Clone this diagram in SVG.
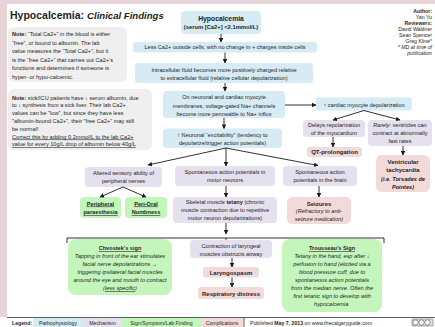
<svg xmlns="http://www.w3.org/2000/svg" width="435" height="327" viewBox="0 0 435 327">
<defs>
<style>
text{font-family:"Liberation Sans",Arial,sans-serif;font-size:5.6px;fill:#1e1e1e}
.c{text-anchor:middle}
.e{text-anchor:end;font-size:5.2px}
.b{font-weight:bold}
.i{font-style:italic}
.u{text-decoration:underline}
.bl{fill:#d6ebf3}
.pu{fill:#e4e0ee}
.gr{fill:#c4f6bc}
.pk{fill:#f2dada}
.nt{fill:#efefef}
.ln{stroke:#1a1a1a;stroke-width:0.9;fill:none}
.ar{marker-end:url(#ah)}
</style>
<marker id="ah" viewBox="0 0 10 10" refX="9" refY="5" markerWidth="4.5" markerHeight="4.5" orient="auto" markerUnits="userSpaceOnUse"><path d="M0,0 L10,5 L0,10 z" fill="#1a1a1a"/></marker>
</defs>
<rect x="0" y="0" width="435" height="327" fill="#ffffff"/>
<rect x="0" y="0" width="435" height="4" fill="#e6d4d8"/>
<rect x="0" y="0" width="7" height="317" fill="#e6d4d8"/>

<g id="title">
<text x="10" y="18.5" style="font-size:10.5px" class="b">Hypocalcemia: <tspan class="i" style="font-size:9.6px">Clinical Findings</tspan></text>
</g>

<g id="authors">
<text x="432" y="12.5" class="e b">Author:</text>
<text x="432" y="18.5" class="e">Yan Yu</text>
<text x="432" y="24.5" class="e b">Reviewers:</text>
<text x="432" y="30.5" class="e">David Waldner</text>
<text x="432" y="36.5" class="e">Sean Spencer</text>
<text x="432" y="42.5" class="e">Greg Kline*</text>
<text x="432" y="48.5" class="e i">* MD at time of</text>
<text x="432" y="54.5" class="e i">publication</text>
</g>

<g id="note1">
<rect x="8" y="27" width="119" height="55" rx="6" class="nt"/>
<text x="12" y="36"><tspan class="b">Note:</tspan> “Total Ca2+” in the blood is either</text>
<text x="12" y="44.6">“free”, or bound to albumin. The lab</text>
<text x="12" y="53.2">value measures the “Total Ca2+”, but it</text>
<text x="12" y="61.8">is the “free Ca2+” that carries out Ca2+’s</text>
<text x="12" y="70.4">functions and determines if someone is</text>
<text x="12" y="79">hyper- or hypo-calcemic.</text>
</g>

<g id="note2">
<rect x="8" y="89" width="144" height="61" rx="6" class="nt"/>
<text x="12" y="99.5"><tspan class="b">Note:</tspan> sick/ICU patients have ↓ serum albumin, due</text>
<text x="12" y="107.3">to ↓ synthesis from a sick liver. Their lab Ca2+</text>
<text x="12" y="115.1">values can be "low", but since they have less</text>
<text x="12" y="122.9">"albumin-bound Ca2+", their "free Ca2+" may still</text>
<text x="12" y="130.7">be <tspan class="i">normal</tspan>!</text>
<text x="12" y="138.5" class="u">Correct this by adding 0.2mmol/L to the lab Ca2+</text>
<text x="12" y="146.3" class="u">value for every 10g/L drop of albumin below 40g/L</text>
</g>

<g id="hypocalcemia">
<rect x="181" y="11" width="80" height="23" rx="4" class="bl"/>
<text x="221" y="20.5" class="c b" style="font-size:6.8px">Hypocalcemia</text>
<text x="221" y="28.8" class="c b" style="font-size:5.8px">(serum [Ca2+] &lt;2.1mmol/L)</text>
</g>

<g id="less-ca">
<rect x="133" y="42" width="184" height="10.5" rx="3" class="bl"/>
<text x="225" y="49.2" class="c">Less Ca2+ outside cells, with no change in + charges inside cells</text>
</g>

<g id="intracellular">
<rect x="135" y="63" width="178" height="20" rx="4" class="bl"/>
<text x="224" y="71.5" class="c">Intracellular fluid becomes more positively charged relative</text>
<text x="224" y="79.5" class="c">to extracellular fluid (relative cellular depolarization)</text>
</g>

<g id="na-channels">
<rect x="163" y="91" width="122" height="27" rx="4" class="bl"/>
<text x="224" y="99" class="c">On neuronal and cardiac myocyte</text>
<text x="224" y="107.5" class="c">membranes, voltage-gated Na+ channels</text>
<text x="224" y="116" class="c">become more permeable to Na+ influx</text>
</g>

<g id="excitability">
<rect x="163" y="128.5" width="119" height="19.5" rx="4" class="bl"/>
<text x="222.5" y="136.5" class="c">↑ Neuronal “excitability” (tendency to</text>
<text x="222.5" y="145" class="c">depolarize/trigger action potentials)</text>
</g>

<g id="cardiac-depol">
<rect x="316" y="97.5" width="96" height="13" rx="3" class="bl"/>
<text x="364" y="106.5" class="c">↑ cardiac myocyte depolarization</text>
</g>

<g id="delays">
<rect x="303" y="120" width="62" height="17" rx="4" class="pu"/>
<text x="334" y="127" class="c">Delays repolarization</text>
<text x="334" y="135" class="c">of the myocardium</text>
</g>

<g id="rarely">
<rect x="368" y="120" width="64" height="26" rx="4" class="pu"/>
<text x="400" y="127" class="c"><tspan class="i">Rarely</tspan>: ventricles can</text>
<text x="400" y="135" class="c">contract at abnormally</text>
<text x="400" y="143" class="c">fast rates</text>
</g>

<g id="qt">
<rect x="307" y="147" width="55" height="10" rx="3" class="pk"/>
<text x="334.5" y="154.3" class="c b" style="font-size:6px">QT-prolongation</text>
</g>

<g id="vtach">
<rect x="376" y="155" width="54" height="37" rx="6" class="pk"/>
<text x="403" y="164" class="c b" style="font-size:6px">Ventricular</text>
<text x="403" y="172.3" class="c b" style="font-size:6px">tachycardia</text>
<text x="403" y="181" class="c b i">(i.e. Torsades de</text>
<text x="403" y="189.3" class="c b i">Pointes)</text>
</g>

<g id="altered">
<rect x="85" y="167" width="77" height="20" rx="4" class="pu"/>
<text x="123.5" y="174.5" class="c">Altered sensory ability of</text>
<text x="123.5" y="183" class="c">peripheral nerves</text>
</g>

<g id="motor-ap">
<rect x="175" y="166" width="100" height="20" rx="4" class="pu"/>
<text x="225" y="174" class="c">Spontaneous action potentials in</text>
<text x="225" y="182.3" class="c">motor neurons</text>
</g>

<g id="brain-ap">
<rect x="283" y="166" width="74" height="20" rx="4" class="pu"/>
<text x="320" y="174.3" class="c">Spontaneous action</text>
<text x="320" y="182.3" class="c">potentials in the brain</text>
</g>

<g id="seizures">
<rect x="287" y="197" width="64" height="27" rx="5" class="pk"/>
<text x="319" y="206" class="c b" style="font-size:6px">Seizures</text>
<text x="319" y="213.3" class="c i">(Refractory to anti-</text>
<text x="319" y="220.6" class="c i">seizure medication)</text>
</g>

<g id="paraesthesia">
<rect x="80" y="197" width="41" height="21" rx="4" class="gr"/>
<text x="100.5" y="205.5" class="c b u">Peripheral</text>
<text x="100.5" y="214.3" class="c b u">paraesthesia</text>
</g>

<g id="perioral">
<rect x="125" y="197" width="42" height="21" rx="4" class="gr"/>
<text x="146" y="205.5" class="c b u">Peri-Oral</text>
<text x="146" y="214.3" class="c b u">Numbness</text>
</g>

<g id="tetany">
<rect x="173" y="197" width="104" height="26" rx="4" class="pu"/>
<text x="225" y="204" class="c">Skeletal muscle <tspan class="b">tetany</tspan> (chronic</text>
<text x="225" y="212" class="c">muscle contraction due to repetitive</text>
<text x="225" y="220" class="c">motor neuron depolarizations)</text>
</g>

<g id="chvostek">
<rect x="68" y="239" width="104" height="56" rx="8" class="gr"/>
<text x="120" y="250" class="c b u">Chvostek’s sign</text>
<text x="120" y="258" class="c i">Tapping in front of the ear stimulates</text>
<text x="120" y="266" class="c i">facial nerve depolarizations →</text>
<text x="120" y="274" class="c i">triggering ipsilateral facial muscles</text>
<text x="120" y="282" class="c i">around the eye and mouth to contract</text>
<text x="120" y="290" class="c i">(<tspan class="u">less specific</tspan>)</text>
</g>

<g id="trousseau">
<rect x="282" y="239" width="100" height="73" rx="8" class="gr"/>
<text x="332" y="250" class="c b u">Trousseau’s Sign</text>
<text x="332" y="258" class="c i">Tetany in the hand, esp after ↓</text>
<text x="332" y="266" class="c i">perfusion to hand (elicited via a</text>
<text x="332" y="274" class="c i">blood pressure cuff, due to</text>
<text x="332" y="282" class="c i">spontaneous action potentials</text>
<text x="332" y="290" class="c i">from the median nerve. Often the</text>
<text x="332" y="298" class="c i">first tetanic sign to develop with</text>
<text x="332" y="306" class="c i">hypocalcemia.</text>
</g>

<g id="laryngeal">
<rect x="190" y="240" width="82" height="18" rx="4" class="pu"/>
<text x="231" y="248" class="c">Contraction of laryngeal</text>
<text x="231" y="255.5" class="c">muscles obstructs airway</text>
</g>

<g id="laryngospasm">
<rect x="203" y="267" width="56" height="10.5" rx="3" class="pk"/>
<text x="231" y="274.5" class="c b" style="font-size:6px">Laryngospasm</text>
</g>

<g id="resp-distress">
<rect x="198" y="287" width="66" height="12" rx="3" class="pk"/>
<text x="231" y="295.5" class="c b" style="font-size:6px">Respiratory distress</text>
</g>

<g id="connectors">
<line x1="221" y1="34" x2="221" y2="42" class="ln ar"/>
<line x1="225" y1="52.5" x2="225" y2="63" class="ln ar"/>
<line x1="225" y1="83" x2="225" y2="91" class="ln ar"/>
<line x1="285" y1="105" x2="316" y2="105" class="ln ar"/>
<line x1="224" y1="118" x2="224" y2="128.5" class="ln ar"/>
<line x1="226" y1="148" x2="148" y2="165" class="ln ar"/>
<line x1="226" y1="148" x2="226" y2="166" class="ln ar"/>
<line x1="226" y1="148" x2="318" y2="165.5" class="ln ar"/>
<line x1="364" y1="110.5" x2="333" y2="120" class="ln ar"/>
<line x1="364" y1="110.5" x2="400" y2="120" class="ln ar"/>
<line x1="333" y1="137" x2="333" y2="147" class="ln ar"/>
<line x1="403" y1="146" x2="403" y2="155" class="ln ar"/>
<line x1="319" y1="186" x2="319" y2="197" class="ln ar"/>
<line x1="123" y1="187" x2="100" y2="197" class="ln ar"/>
<line x1="123" y1="187" x2="146" y2="197" class="ln ar"/>
<line x1="226" y1="186" x2="226" y2="197" class="ln ar"/>
<line x1="226" y1="223" x2="226" y2="234" class="ln ar"/>
<path d="M67,243 V238 H384 V243" class="ln"/>
<line x1="226" y1="238" x2="226" y2="240" class="ln"/>
<line x1="232" y1="258" x2="232" y2="267" class="ln ar"/>
<line x1="232" y1="277.5" x2="232" y2="287" class="ln ar"/>
</g>

<g id="legend">
<line x1="7" y1="317.5" x2="435" y2="317.5" stroke="#333" stroke-width="0.8"/>
<text x="12" y="324.5" class="b" style="font-size:5.2px">Legend:</text>
<rect x="33" y="318" width="50" height="9" class="bl"/>
<text x="58" y="324.5" class="c" style="font-size:5.2px">Pathophysiology</text>
<rect x="83" y="318" width="39" height="9" class="pu"/>
<text x="102.5" y="324.5" class="c" style="font-size:5.2px">Mechanism</text>
<rect x="122" y="318" width="79" height="9" class="gr"/>
<text x="161.5" y="324.5" class="c" style="font-size:5.2px">Sign/Symptom/Lab Finding</text>
<rect x="201" y="318" width="42" height="9" class="pk"/>
<text x="222" y="324.5" class="c" style="font-size:5.2px">Complications</text>
<line x1="244" y1="317.5" x2="244" y2="327" stroke="#333" stroke-width="0.8"/>
<text x="250" y="324.5" style="font-size:5.2px">Published <tspan class="b">May 7, 2013</tspan> on www.thecalgaryguide.com</text>
<rect x="412" y="319" width="21" height="7" rx="1" fill="#e0e0e0" stroke="#555" stroke-width="0.5"/>
<circle cx="415.5" cy="322.5" r="2.6" fill="#fff" stroke="#333" stroke-width="0.5"/>
<circle cx="421.5" cy="322.5" r="2.6" fill="#fff" stroke="#333" stroke-width="0.5"/>
<circle cx="427.5" cy="322.5" r="2.6" fill="#fff" stroke="#333" stroke-width="0.5"/>
</g>
</svg>
